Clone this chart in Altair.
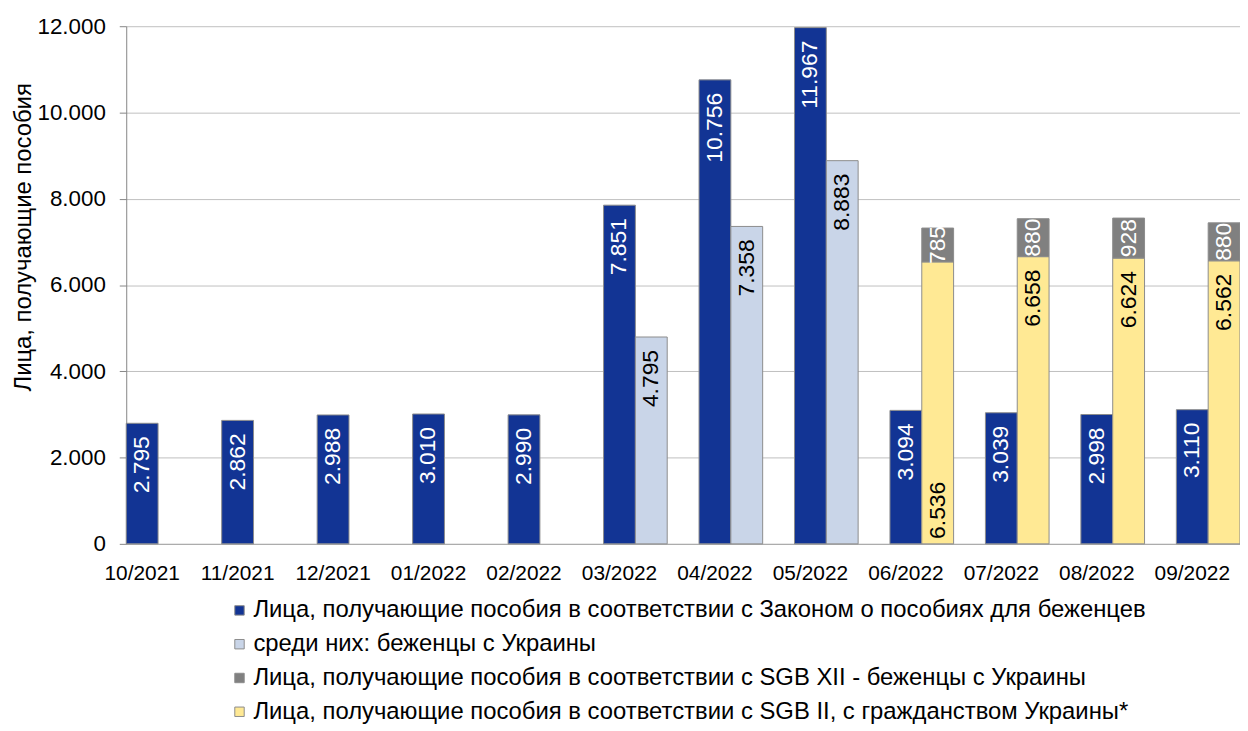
import altair as alt
import pandas as pd

months = ["10/2021", "11/2021", "12/2021", "01/2022", "02/2022", "03/2022",
          "04/2022", "05/2022", "06/2022", "07/2022", "08/2022", "09/2022"]
asylum = [2795, 2862, 2988, 3010, 2990, 7851, 10756, 11967, 3094, 3039, 2998, 3110]
ukr_among = [None, None, None, None, None, 4795, 7358, 8883, None, None, None, None]
sgb12_ukr = [None, None, None, None, None, None, None, None, 785, 880, 928, 880]
sgb2_ukr = [None, None, None, None, None, None, None, None, 6536, 6658, 6624, 6562]

series_names = [
    "Лица, получающие пособия в соответствии с Законом о пособиях для беженцев",
    "среди них: беженцы с Украины",
    "Лица, получающие пособия в соответствии с SGB XII - беженцы с Украины",
    "Лица, получающие пособия в соответствии с SGB II, с гражданством Украины*",
]
series_colors = ["#123494", "#C9D5E8", "#808080", "#FFE994"]
y_ticks = [0, 2000, 4000, 6000, 8000, 10000, 12000]
base_label_month = "06/2022"


def fmt(v):
    return f"{int(v):,}".replace(",", ".")


rows = []
for i, m in enumerate(months):
    rows.append(dict(month=m, grp="A", series=series_names[0], value=asylum[i], y0=0, y1=asylum[i]))
    if ukr_among[i] is not None:
        rows.append(dict(month=m, grp="B", series=series_names[1], value=ukr_among[i], y0=0, y1=ukr_among[i]))
    if sgb2_ukr[i] is not None:
        rows.append(dict(month=m, grp="B", series=series_names[3], value=sgb2_ukr[i], y0=0, y1=sgb2_ukr[i]))
    if sgb12_ukr[i] is not None:
        b = sgb2_ukr[i] or 0
        rows.append(dict(month=m, grp="B", series=series_names[2], value=sgb12_ukr[i], y0=b, y1=b + sgb12_ukr[i]))
df = pd.DataFrame(rows)
df["label"] = df["value"].map(fmt)
df["ymid"] = (df["y0"] + df["y1"]) / 2

FONT = "Liberation Sans"

x_enc = alt.X("month:N", sort=months, title=None,
              scale=alt.Scale(paddingInner=1/3, paddingOuter=0),
              axis=alt.Axis(labelFontSize=21, labelColor="#000000", labelPadding=19,
                            labelOffset=-16, ticks=False, domainColor="#A6A6A6",
                            labelAngle=0, grid=False))
xo_enc = alt.XOffset("grp:N", scale=alt.Scale(domain=["A", "B"], paddingInner=0, paddingOuter=0))
y_scale = alt.Scale(domain=[0, 12000])

base = alt.Chart(df)

bars = base.mark_bar(stroke="#8C8C8C", strokeWidth=1).encode(
    x=x_enc,
    xOffset=xo_enc,
    y=alt.Y("y1:Q", scale=y_scale, title="Лица, получающие пособия",
            axis=alt.Axis(values=y_ticks,
                          labelExpr="replace(format(datum.value, ','), ',', '.')",
                          labelFontSize=22.5, labelColor="#000000", labelPadding=14,
                          tickSize=7, tickColor="#868686", domainColor="#868686",
                          gridColor="#BFBFBF", titleFontSize=24, titleFontWeight="normal",
                          titleColor="#000000", titleAngle=270, titleX=-103, titleY=212,
                          titleAlign="center", titleBaseline="middle")),
    y2="y0:Q",
    color=alt.Color("series:N", scale=alt.Scale(domain=series_names, range=series_colors),
                    legend=alt.Legend(orient="none", legendX=102, legendY=576, direction="vertical",
                                      title=None, symbolType="square", symbolSize=90,
                                      symbolStrokeColor="#8C8C8C", symbolStrokeWidth=1,
                                      labelFontSize=24, labelColor="#000000", labelLimit=2000,
                                      rowPadding=10, labelOffset=2)),
)

txt_common = dict(angle=270, fontSize=23, font=FONT)

top_dark = base.transform_filter(
    alt.datum.series == series_names[0]
).mark_text(align="right", baseline="middle", dx=-13, color="#FFFFFF", **txt_common).encode(
    x=alt.X("month:N", sort=months), xOffset=xo_enc, y=alt.Y("y1:Q", scale=y_scale), text="label:N")

top_light = base.transform_filter(
    (alt.datum.series == series_names[1]) |
    ((alt.datum.series == series_names[3]) & (alt.datum.month != base_label_month))
).mark_text(align="right", baseline="middle", dx=-13, color="#000000", **txt_common).encode(
    x=alt.X("month:N", sort=months), xOffset=xo_enc, y=alt.Y("y1:Q", scale=y_scale), text="label:N")

bottom_yellow = base.transform_filter(
    (alt.datum.series == series_names[3]) & (alt.datum.month == base_label_month)
).mark_text(align="left", baseline="middle", dx=5, color="#000000", **txt_common).encode(
    x=alt.X("month:N", sort=months), xOffset=xo_enc, y=alt.Y("y0:Q", scale=y_scale), text="label:N")

grey_txt = base.transform_filter(
    alt.datum.series == series_names[2]
).mark_text(align="center", baseline="middle", color="#FFFFFF", **txt_common).encode(
    x=alt.X("month:N", sort=months), xOffset=xo_enc, y=alt.Y("ymid:Q", scale=y_scale), text="label:N")

chart = alt.layer(bars, top_dark, top_light, bottom_yellow, grey_txt).properties(
    width=1121, height=521,
    autosize=alt.AutoSizeParams(type="none"),
    padding={"left": 119, "top": 16, "right": 0, "bottom": 181},
).configure(font=FONT).configure_view(stroke=None).configure_axis(labelFont=FONT, titleFont=FONT)

chart.save("out.html", embed_options={"renderer": "svg", "actions": False})
